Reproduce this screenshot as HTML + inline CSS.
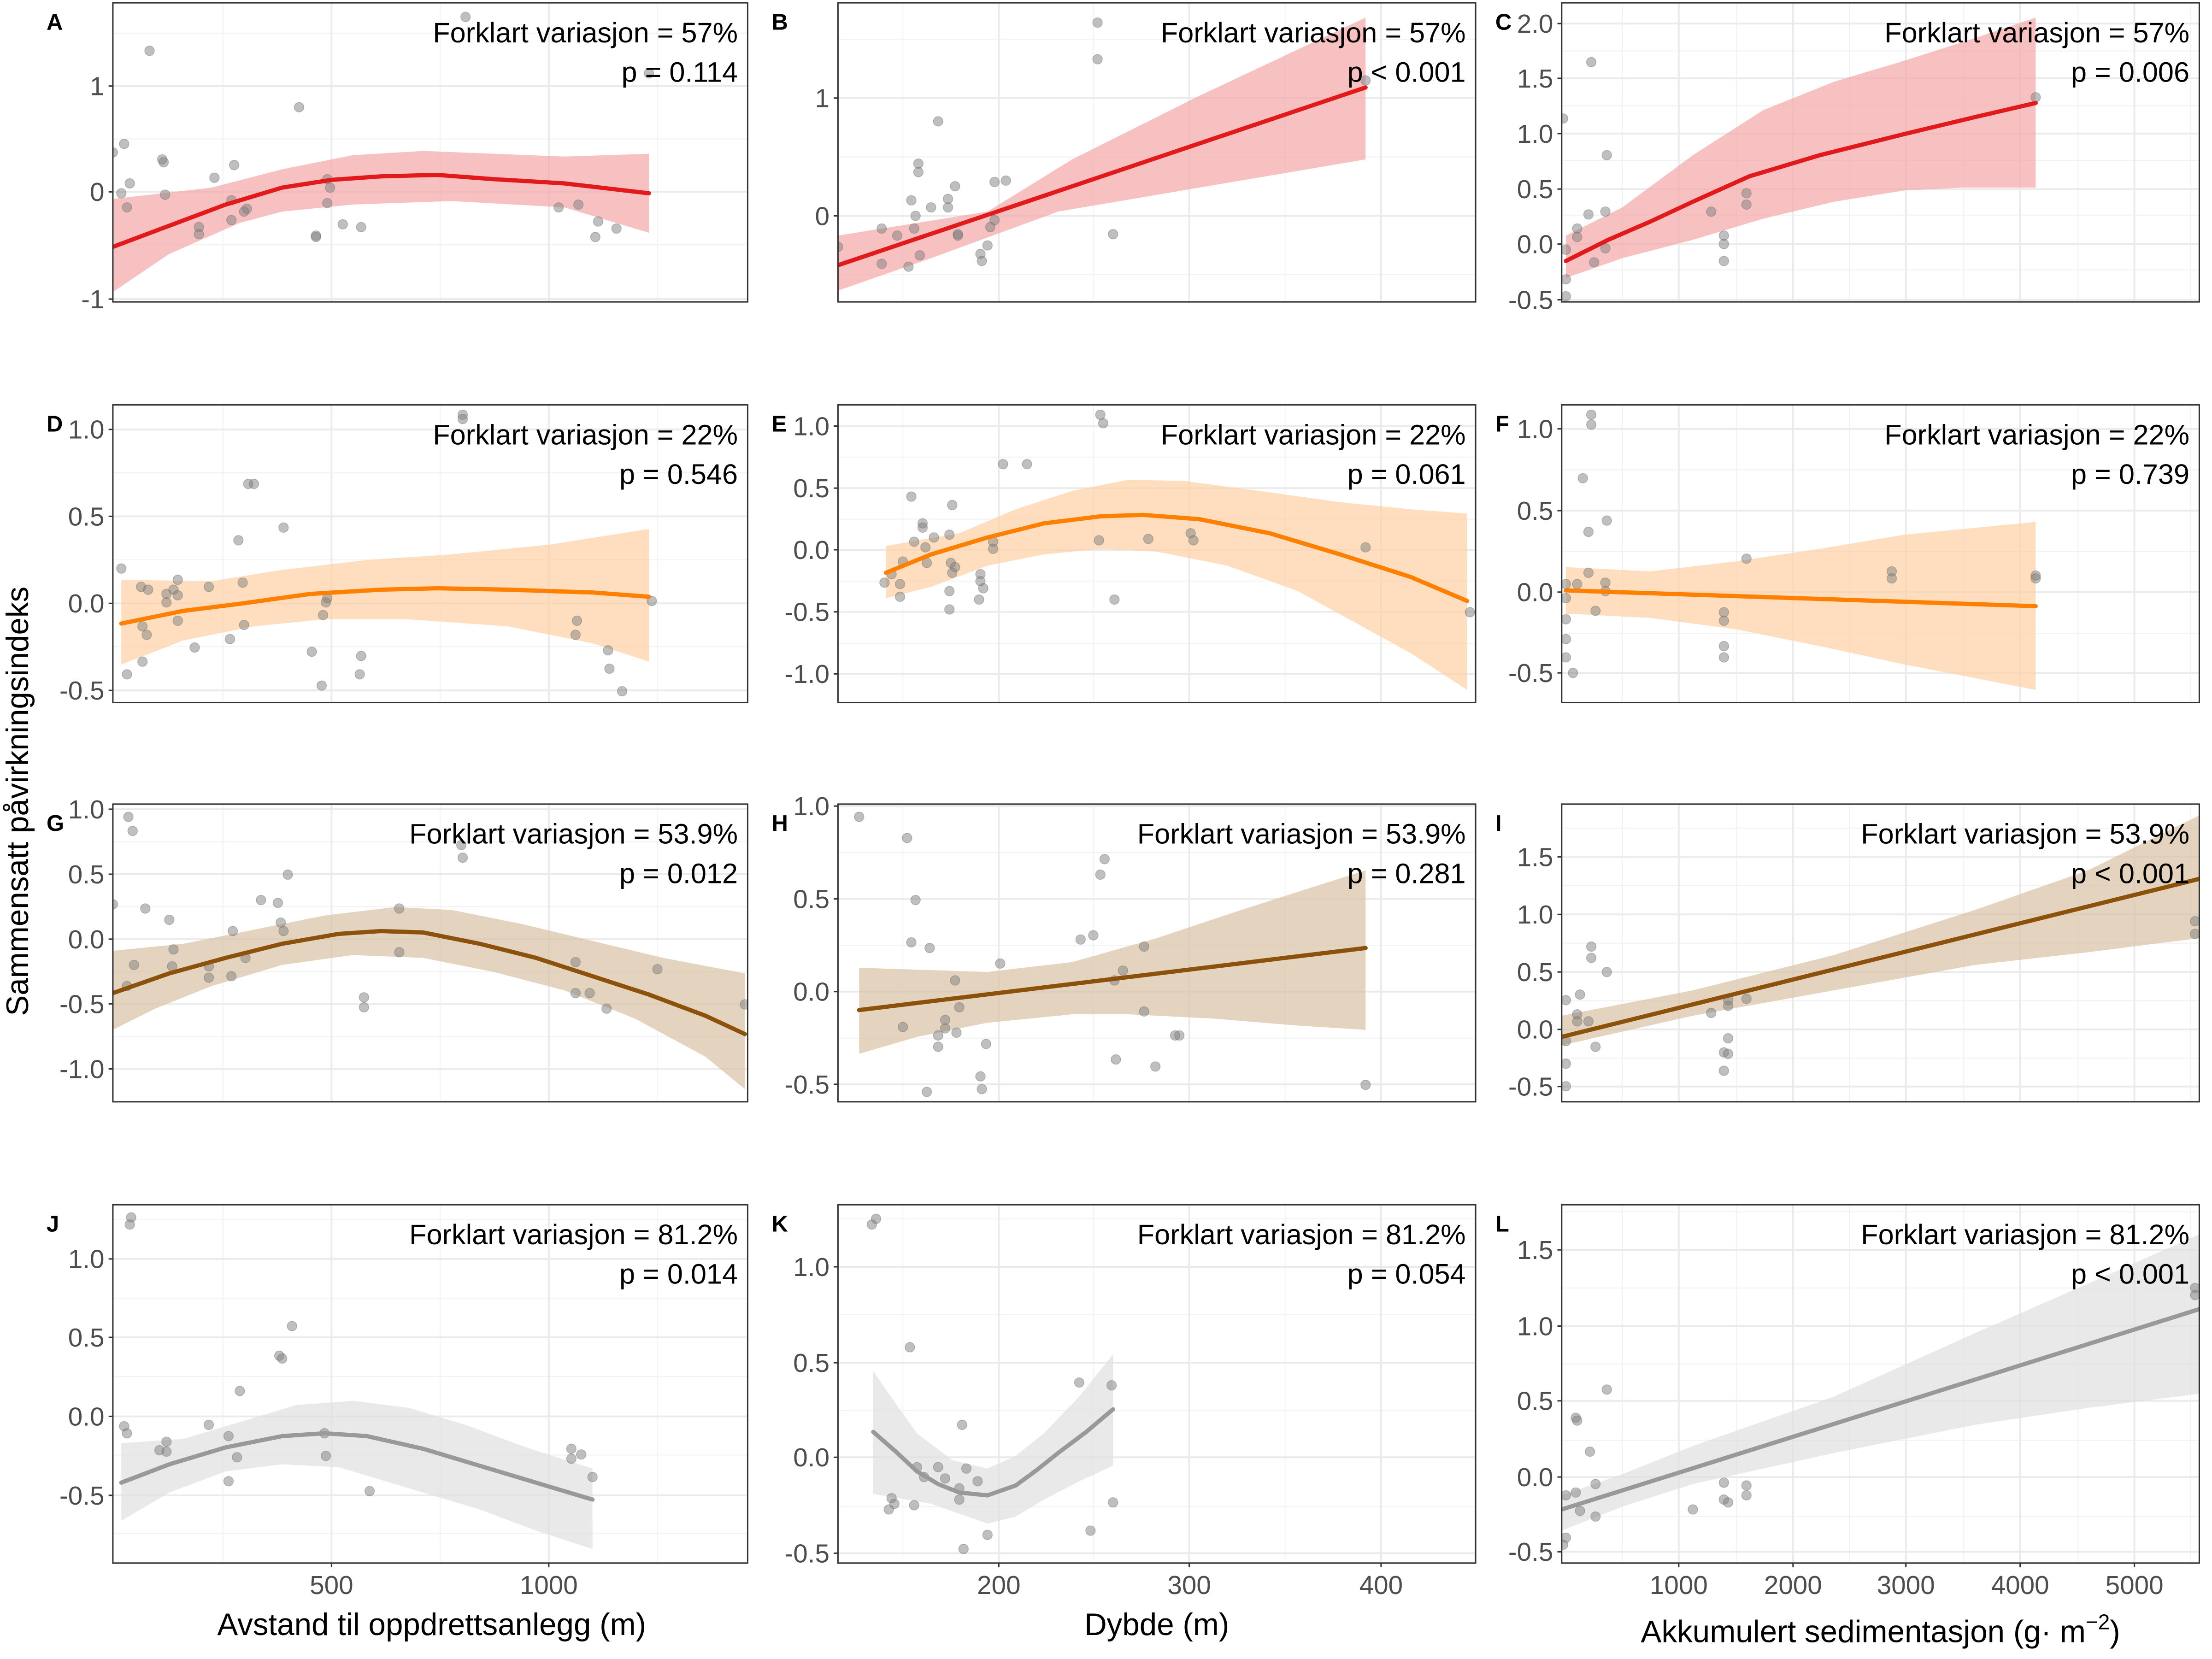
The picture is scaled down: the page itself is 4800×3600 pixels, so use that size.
<!DOCTYPE html>
<html><head><meta charset="utf-8"><style>
html,body{margin:0;padding:0;background:#fff;}
svg{display:block;}
text{font-family:"Liberation Sans",Arial,sans-serif;}
</style></head><body>
<svg id="s" width="4800" height="3600" viewBox="0 0 1568 1176" xmlns="http://www.w3.org/2000/svg"></svg>
<script>
const S=document.getElementById('s');let h='';
const cols=[{x0:80,x1:530,maj:[235,389],min:[158,312,466]},
{x0:594,x1:1046,maj:[708,843,979],min:[640,775,911]},
{x0:1107,x1:1559,maj:[1190,1271,1351,1432,1513],min:[1150,1231,1311,1392,1473,1553]}];
const xl=[["500","1000"],["200","300","400"],["1000","2000","3000","4000","5000"]];
const rows=[[2,214],[287,498],[570,781],[854,1108]];
const P=[
{L:'A',yt:[['1',61],['0',136],['-1',212]],t:'57%',p:'p = 0.114',c:'#e31a1c',f:'#f4a6a8',
 cu:[[80,175],[120,160],[160,145],[200,133],[235,127.5],[270,125],[310,124],[350,127],[400,130],[460,137]],
 up:[[80,141],[150,133],[200,120],[250,110],[300,107],[350,109],[400,111],[460,109]],
 lo:[[80,207],[120,180],[170,158],[200,150],[250,145],[320,142.5],[400,147],[460,165]],
 pts:[[330,12],[106,36],[212,76],[460,52],[88,102],[80,108],[115,113],[116,115],[166,117],[152,126],[232,127],[92,130],[86,137],[117,138],[234,133],[164,142],[90,147],[175,148],[173,150],[232,144],[164,156],[141,161],[141,166],[243,159],[256,161],[224,167],[224,168],[396,147],[410,145],[424,157],[437,162],[422,168]]},
{L:'B',yt:[['1',69.5],['0',153]],t:'57%',p:'p < 0.001',c:'#e31a1c',f:'#f4a6a8',
 cu:[[594,188],[968,62]],up:[[594,167],[700,150],[760,113],[850,68],[968,12.5]],lo:[[594,206],[660,183],[750,150],[850,133],[968,113]],
 pts:[[778,16],[778,42],[968,57],[665,86],[651,116],[651,122],[677,132],[705,129],[713,128],[646,142],[672,141],[660,147],[672,147],[649,153],[705,156],[625,162],[636,167],[648,162],[679,166],[679,167],[702,161],[789,166],[594,175],[652,181],[695,180],[700,174],[696,185],[625,187],[644,189]]},
{L:'C',yt:[['2.0',16.7],['1.5',55.5],['1.0',94.7],['0.5',134],['0.0',173],['-0.5',212.5]],t:'57%',p:'p = 0.006',c:'#e31a1c',f:'#f4a6a8',
 cu:[[1110,185],[1140,170],[1170,157],[1200,143],[1240,125],[1290,110],[1350,95],[1400,83],[1443,73]],
 up:[[1110,167],[1150,147],[1200,110],[1250,78],[1300,58],[1350,43],[1400,27],[1443,12.5]],
 lo:[[1110,197],[1150,183],[1200,170],[1250,155],[1300,143],[1350,135],[1390,133],[1443,133]],
 pts:[[1443,69],[1128,44],[1108,84],[1139,110],[1238,137],[1238,145],[1213,150],[1138,150],[1126,152],[1118,162],[1118,168],[1110,177],[1222,167],[1222,173],[1222,185],[1138,176],[1130,186],[1110,198],[1110,210]]},
{L:'D',yt:[['1.0',304.4],['0.5',366],['0.0',427.7],['-0.5',489.4]],t:'22%',p:'p = 0.546',c:'#ff7f00',f:'#fdd0a2',
 cu:[[86,442],[130,433],[170,428],[220,421],[270,418],[310,417],[360,418],[420,420],[460,423]],
 up:[[86,411],[150,412],[200,404],[260,397],[320,393],[390,386],[460,375]],
 lo:[[86,471],[130,454],[180,444],[230,439],[290,439],[360,444],[420,456],[460,469]],
 pts:[[328,294],[328,297],[176,343],[180,343],[201,374],[169,383],[86,403],[126,411],[172,413],[148,416],[100,416],[105,418],[123,418],[118,421],[126,422],[118,427],[232,424],[231,427],[229,436],[126,440],[173,443],[101,444],[104,450],[163,453],[138,459],[221,462],[256,465],[101,469],[90,478],[255,478],[228,486],[409,440],[408,450],[431,461],[432,474],[441,490],[462,426]]},
{L:'E',yt:[['1.0',302],['0.5',346],['0.0',389.7],['-0.5',433.7],['-1.0',477.7]],t:'22%',p:'p = 0.061',c:'#ff7f00',f:'#fdd0a2',
 cu:[[628,406],[660,393],[700,381],[740,371],[780,366],[810,365],[850,368],[900,378],[950,393],[1000,409],[1040,426]],
 up:[[628,387],[680,378],[720,361],[760,348],[800,340],[840,341],[900,349],[950,356],[1000,361],[1040,364]],
 lo:[[628,424],[660,416],[700,401],[740,393],[780,389],[820,391],[870,401],[920,419],[960,441],[1000,463],[1040,489]],
 pts:[[780,294],[782,300],[711,329],[728,329],[646,352],[675,358],[654,371],[654,374],[673,379],[662,381],[648,384],[656,388],[704,384],[704,389],[779,383],[814,382],[844,378],[846,383],[968,388],[640,398],[657,399],[674,399],[677,402],[675,406],[695,407],[632,407],[627,413],[638,414],[695,412],[697,417],[673,419],[638,423],[694,425],[790,425],[673,432],[1042,434]]},
{L:'F',yt:[['1.0',304],['0.5',362],['0.0',419.7],['-0.5',477]],t:'22%',p:'p = 0.739',c:'#ff7f00',f:'#fdd0a2',
 cu:[[1110,418.5],[1443,429.7]],up:[[1110,402],[1170,405],[1230,398],[1290,389],[1350,379],[1443,370]],lo:[[1110,435],[1170,438],[1230,446],[1290,458],[1350,471],[1443,489]],
 pts:[[1128,294],[1128,301],[1122,339],[1139,369],[1126,377],[1238,396],[1341,405],[1341,410],[1443,408],[1443,410],[1126,406],[1138,413],[1118,414],[1138,419],[1110,414],[1110,424],[1131,433],[1110,439],[1222,434],[1222,440],[1222,458],[1222,466],[1110,453],[1110,466],[1115,477]]},
{L:'G',yt:[['1.0',573.6],['0.5',619.7],['0.0',665.7],['-0.5',711.6],['-1.0',757.7]],t:'53.9%',p:'p = 0.012',c:'#8c510a',f:'#d8c0a4',
 cu:[[80,704],[120,690],[160,679],[200,669],[240,662],[270,660],[300,661],[340,669],[380,679],[420,692],[460,705],[500,720],[528,733]],
 up:[[80,674],[130,669],[180,659],[230,649],[280,643],[320,645],[370,655],[420,667],[470,679],[528,690]],
 lo:[[80,730],[110,715],[150,699],[200,684],[250,677],[300,679],[350,689],[400,702],[450,722],[500,749],[528,772]],
 pts:[[91,579],[94,589],[327,599],[328,608],[204,620],[185,638],[197,640],[103,644],[80,641],[283,644],[120,652],[199,654],[165,660],[201,660],[123,673],[283,675],[174,679],[95,684],[122,685],[148,685],[148,693],[164,692],[408,682],[466,687],[90,699],[258,707],[258,714],[408,704],[418,704],[430,715],[528,712]]},
{L:'H',yt:[['1.0',571.4],['0.5',637.2],['0.0',702.9],['-0.5',768.6]],t:'53.9%',p:'p = 0.281',c:'#8c510a',f:'#d8c0a4',
 cu:[[609,716],[968,672]],up:[[609,686],[700,689],[760,682],[820,665],[880,645],[930,629],[968,617]],lo:[[609,747],[650,735],[700,725],[760,719],[800,719],[860,722],[920,727],[968,730]],
 pts:[[609,579],[643,594],[783,609],[780,620],[649,638],[646,668],[659,672],[766,666],[775,663],[811,671],[709,683],[796,688],[790,695],[677,695],[680,714],[811,717],[670,723],[640,728],[670,729],[678,732],[665,734],[833,734],[836,734],[699,740],[665,742],[791,751],[819,756],[695,763],[696,772],[657,774],[968,769]]},
{L:'I',yt:[['1.5',607.4],['1.0',648.2],['0.5',689],['0.0',729.7],['-0.5',770.2]],t:'53.9%',p:'p < 0.001',c:'#8c510a',f:'#d8c0a4',
 cu:[[1107,735],[1559,623]],up:[[1107,720],[1200,702],[1300,677],[1400,645],[1480,617],[1559,578]],lo:[[1107,741],[1200,720],[1300,702],[1400,684],[1480,675],[1559,665]],
 pts:[[1556,653],[1556,662],[1128,671],[1128,679],[1139,689],[1120,705],[1110,709],[1238,708],[1225,709],[1225,713],[1213,718],[1118,719],[1118,724],[1126,724],[1110,738],[1131,742],[1225,736],[1222,746],[1225,747],[1222,759],[1110,754],[1110,770]]},
{L:'J',yt:[['1.0',892.4],['0.5',948],['0.0',1004],['-0.5',1060]],t:'81.2%',p:'p = 0.014',c:'#999999',f:'#e0e0e0',
 cu:[[86,1051],[120,1038],[160,1026],[200,1018],[230,1016],[260,1018],[300,1027],[340,1039],[380,1051],[420,1063]],
 up:[[86,1023],[130,1020],[170,1008],[210,996],[250,993],[290,998],[330,1010],[370,1025],[420,1041]],
 lo:[[86,1078],[120,1058],[160,1043],[200,1038],[240,1040],[290,1055],[340,1070],[380,1085],[420,1098]],
 pts:[[93,863],[92,868],[207,940],[198,961],[200,963],[170,986],[88,1011],[90,1016],[148,1010],[162,1018],[118,1022],[118,1029],[113,1028],[168,1033],[230,1016],[231,1032],[162,1050],[262,1057],[405,1027],[412,1031],[405,1034],[420,1047]]},
{L:'K',yt:[['1.0',898],['0.5',966],['0.0',1033],['-0.5',1101]],t:'81.2%',p:'p = 0.054',c:'#999999',f:'#e0e0e0',
 cu:[[619,1015],[635,1029],[650,1043],[665,1052],[680,1058],[700,1060],[720,1053],[735,1042],[750,1030],[770,1015],[789,999]],
 up:[[619,972],[635,995],[650,1016],[675,1035],[700,1041],[720,1032],[740,1016],[765,990],[789,960]],
 lo:[[619,1059],[660,1066],[680,1073],[700,1080],[720,1075],[740,1063],[765,1050],[789,1039]],
 pts:[[621,864],[618,868],[645,955],[682,1010],[765,980],[788,982],[650,1040],[665,1040],[685,1041],[655,1047],[670,1048],[693,1050],[680,1055],[632,1062],[634,1066],[648,1067],[630,1070],[680,1063],[789,1065],[700,1088],[773,1085],[683,1098]]},
{L:'L',yt:[['1.5',886],['1.0',940],['0.5',993],['0.0',1047],['-0.5',1100]],t:'81.2%',p:'p < 0.001',c:'#999999',f:'#e0e0e0',
 cu:[[1107,1070],[1559,928]],up:[[1107,1060],[1150,1045],[1200,1025],[1300,990],[1400,945],[1480,910],[1559,875]],lo:[[1107,1085],[1150,1068],[1200,1052],[1300,1030],[1400,1010],[1480,998],[1559,988]],
 pts:[[1556,913],[1556,918],[1139,985],[1117,1005],[1118,1007],[1127,1029],[1131,1052],[1117,1058],[1110,1060],[1120,1071],[1131,1075],[1200,1070],[1222,1051],[1238,1053],[1222,1063],[1238,1060],[1225,1065],[1110,1090],[1108,1095]]}
];
const pl=a=>a.map(p=>p.join(',')).join(' ');
P.forEach((d,i)=>{
 const c=cols[i%3],r=rows[Math.floor(i/3)],y0=r[0],y1=r[1];
 c.min.forEach(x=>{if(x<c.x1)h+=`<line x1="${x}" x2="${x}" y1="${y0}" y2="${y1}" stroke="#f2f2f2" stroke-width="0.7"/>`});
 const sp=d.yt[1][1]-d.yt[0][1];
 const mids=[];for(let k=-1;k<d.yt.length;k++){const m=d.yt[0][1]+sp*(k+0.5);if(m>y0&&m<y1)mids.push(m)}
 mids.forEach(m=>h+=`<line x1="${c.x0}" x2="${c.x1}" y1="${m}" y2="${m}" stroke="#f2f2f2" stroke-width="0.7"/>`);
 c.maj.forEach(x=>h+=`<line x1="${x}" x2="${x}" y1="${y0}" y2="${y1}" stroke="#ebebeb" stroke-width="1.3"/>`);
 d.yt.forEach(t=>{h+=`<line x1="${c.x0}" x2="${c.x1}" y1="${t[1]}" y2="${t[1]}" stroke="#ebebeb" stroke-width="1.3"/>`;
  h+=`<line x1="${c.x0-3}" x2="${c.x0}" y1="${t[1]}" y2="${t[1]}" stroke="#333"/>`;
  h+=`<text x="${c.x0-6}" y="${t[1]+6.5}" font-size="18.5" fill="#4d4d4d" text-anchor="end">${t[0]}</text>`});
 h+=`<clipPath id="c${i}"><rect x="${c.x0}" y="${y0}" width="${c.x1-c.x0}" height="${y1-y0}"/></clipPath><g clip-path="url(#c${i})">`;
 h+=`<polygon points="${pl(d.up)} ${pl(d.lo.slice().reverse())}" fill="${d.f}" opacity="0.7"/>`;
 d.pts.forEach(p=>h+=`<circle cx="${p[0]}" cy="${p[1]}" r="3.4" fill="#808080" fill-opacity="0.5" stroke="#666" stroke-opacity="0.4" stroke-width="0.5"/>`);
 h+=`<polyline points="${pl(d.cu)}" fill="none" stroke="${d.c}" stroke-width="3" stroke-linejoin="round" stroke-linecap="round"/></g>`;
 h+=`<rect x="${c.x0}" y="${y0}" width="${c.x1-c.x0}" height="${y1-y0}" fill="none" stroke="#333" stroke-width="1"/>`;
 h+=`<text x="${c.x1-7}" y="${y0+28}" font-size="20" text-anchor="end">Forklart variasjon = ${d.t}</text>`;
 h+=`<text x="${c.x1-7}" y="${y0+56}" font-size="20" text-anchor="end">${d.p}</text>`;
 h+=`<text x="${c.x0-47}" y="${y0+19}" font-size="16" font-weight="bold">${d.L}</text>`;
 if(i>=9){c.maj.forEach((x,k)=>{h+=`<line x1="${x}" x2="${x}" y1="${y1}" y2="${y1+3}" stroke="#333"/><text x="${x}" y="${y1+22}" font-size="18.5" fill="#4d4d4d" text-anchor="middle">${xl[i-9][k]}</text>`})}
});
h+=`<text x="306" y="1159" font-size="22" text-anchor="middle">Avstand til oppdrettsanlegg (m)</text>`;
h+=`<text x="820" y="1159" font-size="22" text-anchor="middle">Dybde (m)</text>`;
h+=`<text x="1333" y="1164" font-size="22" text-anchor="middle">Akkumulert sedimentasjon (g· m<tspan dy="-9" font-size="15">−2</tspan><tspan dy="9">)</tspan></text>`;
h+=`<text transform="translate(20,568) rotate(-90)" font-size="22" text-anchor="middle">Sammensatt påvirkningsindeks</text>`;
S.innerHTML=h;
</script>
</body></html>
